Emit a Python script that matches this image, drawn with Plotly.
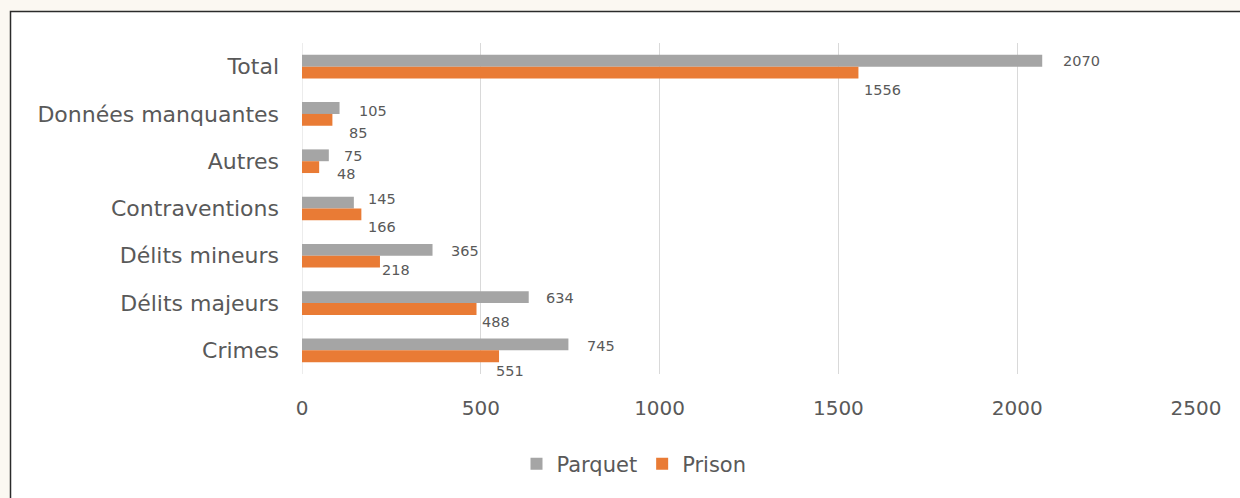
import plotly.graph_objects as go

categories = ["Total", "Données manquantes", "Autres", "Contraventions",
              "Délits mineurs", "Délits majeurs", "Crimes"]
parquet = [2070, 105, 75, 145, 365, 634, 745]
prison = [1556, 85, 48, 166, 218, 488, 551]
x_ticks = [0, 500, 1000, 1500, 2000, 2500]

# label nudges (pixels), as placed in the original
parquet_dx = [20, 18, 14, 13, 17, 16, 18]
parquet_dy = [6, 3, 5, 10, 5, 5, 4]
prison_dx = [5, 16, 17, 6, 1, 4, -4]
prison_dy = [-23, -19, -13, -18, -14, -19, -21]

GRAY = "#A5A5A5"
ORANGE = "#E97B35"
TXT = "#595959"
FONT = "DejaVu Sans"

W, H = 1240, 498
L, R, T, B = 302, 44, 43, 124
pw, ph = W - L - R, H - T - B

def px_x(p):
    return (p - L) / pw

def px_y(p):
    return (H - B - p) / ph

fig = go.Figure()
fig.add_trace(go.Bar(y=categories, x=parquet, name="Parquet", orientation="h",
                     marker=dict(color=GRAY, line=dict(width=0))))
fig.add_trace(go.Bar(y=categories, x=prison, name="Prison", orientation="h",
                     marker=dict(color=ORANGE, line=dict(width=0))))

ann = []
for c, v, dx, dy in zip(categories, parquet, parquet_dx, parquet_dy):
    ann.append(dict(x=v, y=c, text=str(v), showarrow=False, xanchor="left",
                    yanchor="middle", xshift=dx - 1, yshift=dy,
                    font=dict(family=FONT, size=14.5, color=TXT)))
for c, v, dx, dy in zip(categories, prison, prison_dx, prison_dy):
    ann.append(dict(x=v, y=c, text=str(v), showarrow=False, xanchor="left",
                    yanchor="middle", xshift=dx - 1, yshift=dy,
                    font=dict(family=FONT, size=14.5, color=TXT)))

fig.update_layout(
    width=W, height=H,
    margin=dict(l=L, r=R, t=T, b=B, pad=0),
    paper_bgcolor="#FBF8F2",
    plot_bgcolor="rgba(0,0,0,0)",
    barmode="group", bargap=0.5, bargroupgap=0,
    font=dict(family=FONT, color=TXT),
    showlegend=True,
    legend=dict(orientation="h", x=px_x(634), xanchor="center",
                y=px_y(464), yanchor="middle",
                font=dict(family=FONT, size=21, color=TXT),
                itemwidth=30, bgcolor="rgba(0,0,0,0)"),
    annotations=ann,
    shapes=[dict(type="rect", xref="paper", yref="paper",
                 x0=px_x(10.5), x1=px_x(1260), y0=px_y(520), y1=px_y(11.5),
                 fillcolor="white", line=dict(color="#2b2b2b", width=1.5),
                 layer="below")],
)
fig.update_xaxes(range=[0, 2500], tickvals=x_ticks, ticktext=[str(t) for t in x_ticks],
                 showgrid=True, gridcolor="#D9D9D9", gridwidth=1,
                 zeroline=False, showline=False, ticks="",
                 tickfont=dict(family=FONT, size=20, color=TXT),
                 ticklabelstandoff=20)
fig.update_yaxes(range=[len(categories) - 0.5, -0.5], showgrid=False, zeroline=False,
                 showline=False, ticks="",
                 tickfont=dict(family=FONT, size=22, color=TXT),
                 ticklabelstandoff=22)
fig.add_vline(x=0, line=dict(color="#D9D9D9", width=1), layer="below")

fig.write_html("out.html")
